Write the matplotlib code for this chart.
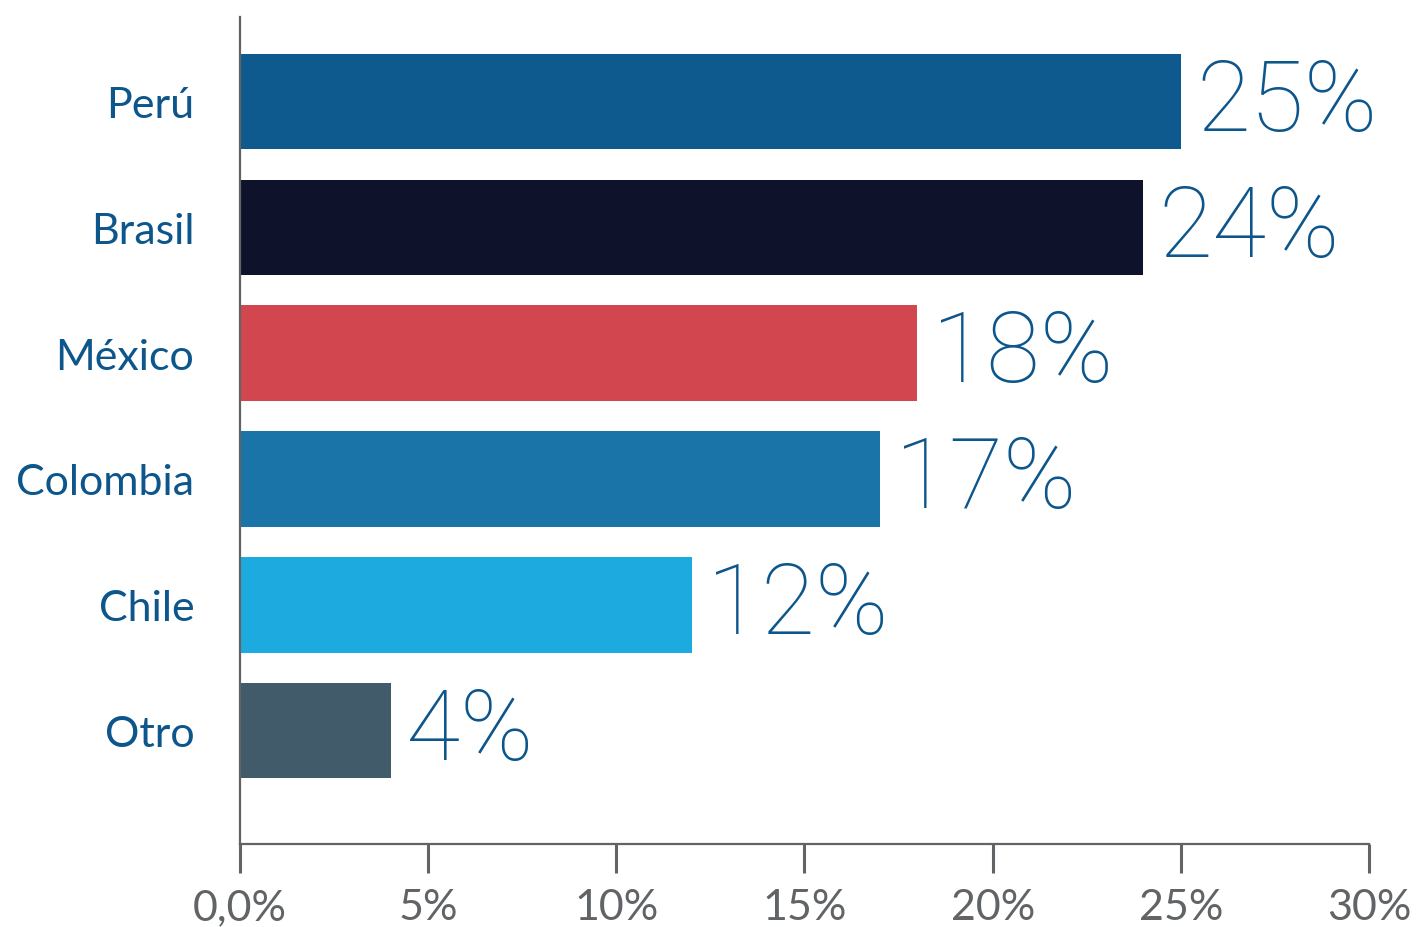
import matplotlib.pyplot as plt
from matplotlib.ticker import FixedLocator

# share by country, top to bottom
countries = ["Perú", "Brasil", "México", "Colombia", "Chile", "Otro"]
shares = [25, 24, 18, 17, 12, 4]
bar_colors = ["#0e5a8f", "#0e132b", "#d1464f", "#1a74a8", "#1caadf", "#415b6a"]
xticks = [0, 5, 10, 15, 20, 25, 30]
xtick_labels = ["0,0%", "5%", "10%", "15%", "20%", "25%", "30%"]

label_blue = "#0d568c"
axis_grey = "#606466"

fig = plt.figure(figsize=(14.21, 9.28), dpi=100)
ax = fig.add_axes([0.1689, 0.0894, 0.7945, 0.8912])

ypos = list(range(len(countries)))[::-1]
ax.barh(ypos, shares, height=0.76, color=bar_colors, zorder=2)

for y, v in zip(ypos, shares):
    ax.text(v + 0.4, y - 0.01, f"{v}%", va="center", ha="left",
            fontsize=71, color=label_blue, family="Roboto", fontweight="light")

ax.set_xlim(0, 30)
ax.set_ylim(-0.902, 5.672)

ax.set_yticks(ypos)
ax.set_yticklabels(countries, fontsize=31, color=label_blue, family="Lato")
ax.tick_params(axis="y", length=0, pad=33)

ax.xaxis.set_major_locator(FixedLocator(xticks))
ax.set_xticklabels(xtick_labels, fontsize=31, color=axis_grey, family="Lato")
ax.tick_params(axis="x", direction="out", length=21, width=2.2,
               color=axis_grey, pad=11)

for side in ["top", "right"]:
    ax.spines[side].set_visible(False)
for side in ["left", "bottom"]:
    ax.spines[side].set_color(axis_grey)
    ax.spines[side].set_linewidth(1.6)

fig.savefig("out.png", dpi=100, facecolor="white")
